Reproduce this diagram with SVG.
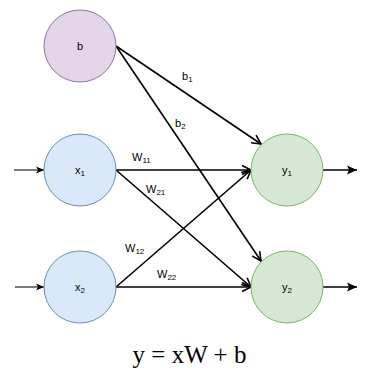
<svg xmlns="http://www.w3.org/2000/svg" width="378" height="376" viewBox="0 0 378 376">
<defs>
<style>
.lbl{font-family:"Liberation Sans",Arial,sans-serif;font-size:11px;fill:#000}
.sub{font-size:8px}
.node-b{fill:#e1d5e7;stroke:#9673a6;stroke-width:1}
.node-x{fill:#dae8fc;stroke:#6c8ebf;stroke-width:1}
.node-y{fill:#d5e8d4;stroke:#82b366;stroke-width:1}
.edge{fill:none;stroke:#000;stroke-width:1.6}
.inp{fill:none;stroke:#333;stroke-width:1.3}
.eq{font-family:"Liberation Serif","Times New Roman",serif;font-size:25px;fill:#000}
</style>
<marker id="open" markerUnits="userSpaceOnUse" markerWidth="12" markerHeight="12" viewBox="0 0 12 12" refX="10.5" refY="6" orient="auto">
<path d="M1.5,1.5 L10.5,6 L1.5,10.5" fill="none" stroke="#000" stroke-width="1.6"/>
</marker>
<marker id="block" markerUnits="userSpaceOnUse" markerWidth="12" markerHeight="12" viewBox="0 0 12 12" refX="11" refY="6" orient="auto">
<path d="M1,1.5 L11,6 L1,10.5 L3,6 Z" fill="#000"/>
</marker>
<marker id="blockin" markerUnits="userSpaceOnUse" markerWidth="10" markerHeight="10" viewBox="0 0 10 10" refX="9" refY="5" orient="auto">
<path d="M1,1.5 L9,5 L1,8.5 L3,5 Z" fill="#000"/>
</marker>
</defs>
<g id="connectors">
<line class="inp" x1="14" y1="170" x2="44" y2="170" marker-end="url(#blockin)"/>
<line class="inp" x1="15" y1="287" x2="44" y2="287" marker-end="url(#blockin)"/>
<line class="edge" x1="116" y1="46" x2="261" y2="144" marker-end="url(#open)"/>
<line class="edge" x1="116" y1="46" x2="261" y2="261" marker-end="url(#open)"/>
<line class="edge" x1="116" y1="170" x2="251" y2="170" marker-end="url(#open)"/>
<line class="edge" x1="116" y1="170" x2="251" y2="287" marker-end="url(#open)"/>
<line class="edge" x1="116" y1="287" x2="251" y2="170" marker-end="url(#open)"/>
<line class="edge" x1="116" y1="287" x2="251" y2="287" marker-end="url(#open)"/>
<line class="edge" x1="323" y1="170" x2="357" y2="170" marker-end="url(#block)"/>
<line class="edge" x1="323" y1="287" x2="357" y2="287" marker-end="url(#block)"/>
<text class="lbl" x="182" y="80">b<tspan class="sub" dy="2">1</tspan></text>
<text class="lbl" x="175" y="127">b<tspan class="sub" dy="2">2</tspan></text>
<text class="lbl" x="132" y="161">W<tspan class="sub" dy="2">11</tspan></text>
<text class="lbl" x="146" y="193">W<tspan class="sub" dy="2">21</tspan></text>
<text class="lbl" x="125" y="252">W<tspan class="sub" dy="2">12</tspan></text>
<text class="lbl" x="157" y="278">W<tspan class="sub" dy="2">22</tspan></text>
</g>
<g id="node-b">
<circle class="node-b" cx="80" cy="46" r="36"/>
<text class="lbl" x="80" y="50" text-anchor="middle">b</text>
</g>
<g id="node-x1">
<circle class="node-x" cx="80" cy="170" r="36"/>
<text class="lbl" x="80" y="174" text-anchor="middle">x<tspan class="sub" dy="2">1</tspan></text>
</g>
<g id="node-x2">
<circle class="node-x" cx="80" cy="287" r="36"/>
<text class="lbl" x="80" y="291" text-anchor="middle">x<tspan class="sub" dy="2">2</tspan></text>
</g>
<g id="node-y1">
<circle class="node-y" cx="287" cy="170" r="36"/>
<text class="lbl" x="287" y="174" text-anchor="middle">y<tspan class="sub" dy="2">1</tspan></text>
</g>
<g id="node-y2">
<circle class="node-y" cx="287" cy="287" r="36"/>
<text class="lbl" x="287" y="291" text-anchor="middle">y<tspan class="sub" dy="2">2</tspan></text>
</g>
<text class="eq" x="189.5" y="363" text-anchor="middle">y = xW + b</text>
</svg>
